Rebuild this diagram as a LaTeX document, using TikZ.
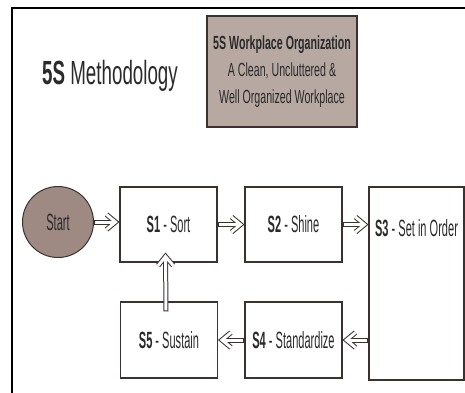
\documentclass[tikz,border=0pt]{standalone}
\usepackage{fontspec}
\setmainfont{Liberation Sans}
\newfontfamily\estrecha[FakeStretch=0.56]{Liberation Sans}
\newfontfamily\angosta[FakeStretch=0.47]{Liberation Sans}
\usepackage{tikz}
\usetikzlibrary{arrows.meta}
\definecolor{marron}{HTML}{B7A9A2}
\definecolor{marronosc}{HTML}{9E8A83}
\definecolor{linea}{HTML}{3A3230}
\definecolor{texto}{HTML}{2A2A2A}

\begin{document}
\begin{tikzpicture}[x=1pt, y=-1pt,
  caja/.style={draw=linea, line width=1.1pt, minimum width=97pt, minimum height=75pt, inner sep=0pt, text=texto, font=\angosta\fontsize{23.5}{25}\selectfont},
  flecha/.style={draw=linea, line width=5pt, -{Straight Barb[length=9pt, width=15pt]},
    postaction={draw=white, line width=3pt, shorten <=1pt, shorten >=1.6pt, -{Straight Barb[length=9pt, width=15pt]}}}]
  \useasboundingbox (0,0) rectangle (465,392);
  \draw[line width=2.6pt] (12,393) -- (12,8) -- (466,8);
  \node[anchor=base, text=texto, font=\estrecha\fontsize{33.5}{35}\selectfont] (titulo) at (110,84) {\textbf{5S} Methodology};
  \node[draw=linea, line width=1.4pt, fill=marron, minimum width=150pt, minimum height=111pt, align=center, text=texto,
    font=\estrecha\fontsize{19}{27}\selectfont] (meta) at (282,71.5)
    {\textbf{5S Workplace Organization}\\A Clean, Uncluttered \&\\Well Organized Workplace};
  \node[circle, draw=linea, line width=1pt, fill=marronosc, minimum size=71pt, inner sep=0pt, text=texto,
    font=\angosta\fontsize{23.5}{25}\selectfont] (inicio) at (58,222) {Start};
  \node[caja] (s1) at (168.5,224.5) {\textbf{S1} - Sort};
  \node[caja] (s2) at (293.5,224.5) {\textbf{S2} - Shine};
  \node[caja, minimum width=95pt, minimum height=193pt] (s3) at (416.5,283.5) {};
  \node[text=texto, inner sep=0pt, font=\angosta\fontsize{23.5}{25}\selectfont] (s3txt) at (416.5,228) {\textbf{S3} - Set in Order};
  \node[caja, minimum height=76pt] (s4) at (293.5,340) {\textbf{S4} - Standardize};
  \node[caja, minimum height=76pt] (s5) at (169,340) {\textbf{S5} - Sustain};
  \draw[flecha] (inicio.east) -- (inicio.east -| s1.west);
  \draw[flecha] (s1) -- (s2);
  \draw[flecha] (s2.east) -- (s2.east -| s3.west);
  \draw[flecha] (s3.west |- s4.east) -- (s4.east);
  \draw[flecha] (s4) -- (s5);
  \draw[flecha] ([xshift=-3pt,yshift=-10pt]s5.north) -- ([xshift=-3pt,yshift=10pt]s1.south);
\end{tikzpicture}
\end{document}
